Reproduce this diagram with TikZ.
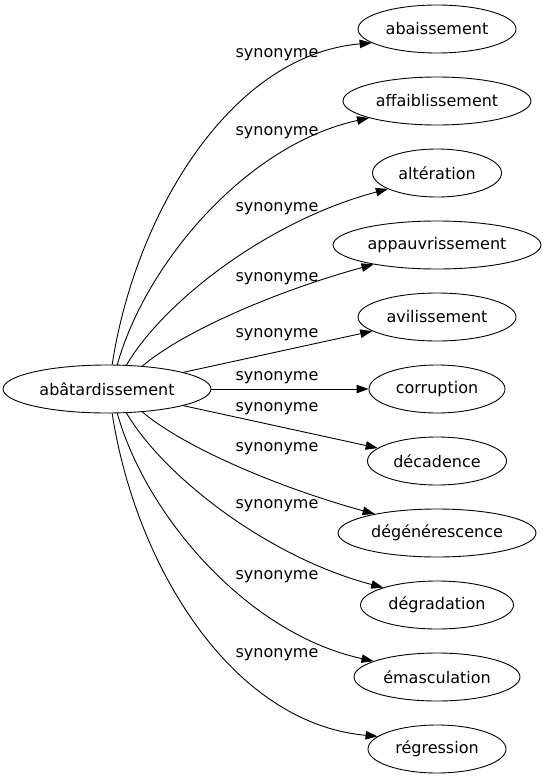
\documentclass[tikz,border=0pt]{standalone}
\usepackage{fontspec}
\setmainfont{DejaVu Sans}
\usetikzlibrary{arrows.meta,shapes.geometric}

\begin{document}
\begin{tikzpicture}[x=1pt, y=-1pt, font=\fontsize{16}{19}\selectfont,
  mot/.style={draw, ellipse, inner sep=0pt, minimum height=48pt, line width=0.9pt},
  syn/.style={-{Triangle[length=12pt, width=8.5pt]}, line width=0.9pt}]
  \useasboundingbox (0,0) rectangle (543,779);

  \node[mot, minimum width=208pt] (racine) at (107,389) {abâtardissement};

  \node[mot, minimum width=158pt] (abaissement) at (437,29) {abaissement};
  \node[mot, minimum width=188pt] (affaiblissement) at (437,101) {affaiblissement};
  \node[mot, minimum width=129pt] (alteration) at (437,173) {altération};
  \node[mot, minimum width=208pt] (appauvrissement) at (437,245) {appauvrissement};
  \node[mot, minimum width=158pt] (avilissement) at (437,317) {avilissement};
  \node[mot, minimum width=136pt] (corruption) at (437,389) {corruption};
  \node[mot, minimum width=139pt] (decadence) at (437,461) {décadence};
  \node[mot, minimum width=198pt] (degenerescence) at (437,533) {dégénérescence};
  \node[mot, minimum width=153pt] (degradation) at (437,605) {dégradation};
  \node[mot, minimum width=166pt] (emasculation) at (437,677) {émasculation};
  \node[mot, minimum width=138pt] (regression) at (437,749) {régression};

  % libelles des aretes
  \node (s1) at (277,55) {synonyme};
  \node (s2) at (277,133) {synonyme};
  \node (s3) at (277,209) {synonyme};
  \node (s4) at (277,279) {synonyme};
  \node (s5) at (277,335) {synonyme};
  \node (s6) at (277,378) {synonyme};
  \node (s7) at (277,409) {synonyme};
  \node (s8) at (277,449) {synonyme};
  \node (s9) at (277,506) {synonyme};
  \node (s10) at (277,577) {synonyme};
  \node (s11) at (277,655) {synonyme};

  \draw[syn] (racine.78) .. controls (135,215) and (230,55) .. (abaissement.192);
  \draw[syn] (racine.67) .. controls (145,265) and (245,145) .. (affaiblissement.194);
  \draw[syn] (racine.51) .. controls (165,300) and (270,220) .. (alteration.198);
  \draw[syn] (racine.33) .. controls (185,330) and (280,290) .. (appauvrissement.197);
  \draw[syn] (racine) to (avilissement);
  \draw[syn] (racine) to (corruption);
  \draw[syn] (racine) to (decadence);
  \draw[syn] (racine.-33) .. controls (185,448) and (280,488) .. (degenerescence.163);
  \draw[syn] (racine.-51) .. controls (165,478) and (270,558) .. (degradation.162);
  \draw[syn] (racine.-67) .. controls (145,513) and (245,633) .. (emasculation.166);
  \draw[syn] (racine.-78) .. controls (135,563) and (230,723) .. (regression.168);
\end{tikzpicture}
\end{document}
